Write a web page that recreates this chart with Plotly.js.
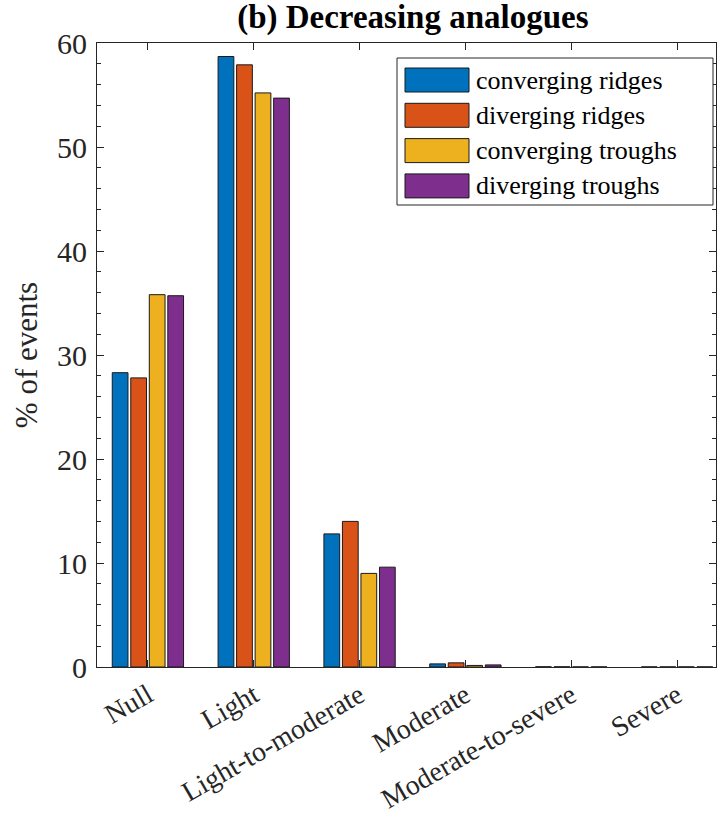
<!DOCTYPE html>
<html><head><meta charset="utf-8">
<script src="https://cdn.plot.ly/plotly-3.0.1.min.js"></script>
<style>body{margin:0;background:#fff}#chart{width:718px;height:818px}</style>
</head><body><div id="chart"></div>
<script>
const categories = ["Null","Light","Light-to-moderate","Moderate","Moderate-to-severe","Severe"];
const seriesNames = ["converging ridges","diverging ridges","converging troughs","diverging troughs"];
const convergingRidges = [28.3, 58.7, 12.8, 0.3, 0.02, 0.01];
const divergingRidges = [27.8, 57.9, 14.0, 0.4, 0.02, 0.01];
const convergingTroughs = [35.8, 55.2, 9.0, 0.15, 0.01, 0.01];
const divergingTroughs = [35.7, 54.7, 9.6, 0.2, 0.01, 0.01];
const colors = ["#0072BD","#D95319","#EDB120","#7E2F8E"];
const yTicks = [0,10,20,30,40,50,60];

const allSeries = [convergingRidges, divergingRidges, convergingTroughs, divergingTroughs];
const traces = allSeries.map((vals,i)=>({
  type:'bar', x: categories, y: vals, name: seriesNames[i], showlegend:false,
  marker:{color: colors[i], line:{color:'#1a1a1a', width:1}}
}));
const serif = "'Liberation Serif', 'Times New Roman', serif";

// manual legend (box + swatches + labels) in pixel-derived paper coords
const W = 718, H = 818, ml = 97, mr = 2, mt = 43, mb = 151;
const pw = W-ml-mr, ph = H-mt-mb;
const px = x => (x-ml)/pw, py = y => 1-(y-mt)/ph;
const shapes = [{type:'rect', xref:'paper', yref:'paper', x0:px(397), x1:px(713), y0:py(205), y1:py(58),
  line:{color:'#262626', width:1}, fillcolor:'#fff', layer:'above'}];
const annotations = [];
seriesNames.forEach((n,i)=>{
  const cy = 80 + i*35.3;
  shapes.push({type:'rect', xref:'paper', yref:'paper', x0:px(405), x1:px(469), y0:py(cy+12), y1:py(cy-12),
    line:{color:'#1a1a1a', width:1}, fillcolor:colors[i], layer:'above'});
  annotations.push({xref:'paper', yref:'paper', x:px(474), y:py(cy), xanchor:'left', yanchor:'middle',
    text:n, showarrow:false, font:{family:serif, size:26, color:'#000'}});
});

const layout = {
  width:W, height:H,
  margin:{l:ml, r:mr, t:mt, b:mb},
  paper_bgcolor:'#fff', plot_bgcolor:'#fff',
  barmode:'group', bargap:0.3, bargroupgap:0.15,
  font:{family:serif, size:26, color:'#262626'},
  title:{text:'<b>(b) Decreasing analogues</b>', x:0.575, xanchor:'center', y:0.9939, yanchor:'top', font:{family:serif, size:33, color:'#000'}},
  xaxis:{type:'category', range:[-0.481, 5.368], tickangle:-30, ticks:'inside', ticklen:7, tickcolor:'#262626',
    showline:true, linecolor:'#262626', linewidth:1, mirror:'ticks', showgrid:false,
    tickfont:{family:serif, size:28, color:'#262626'}},
  yaxis:{range:[0,60], tickvals:yTicks, ticks:'inside', ticklen:7, tickcolor:'#262626',
    minor:{dtick:2, ticks:'inside', ticklen:4, tickcolor:'#262626', showgrid:false},
    showline:true, linecolor:'#262626', linewidth:1, mirror:'ticks', showgrid:false, zeroline:false,
    tickfont:{family:serif, size:30, color:'#262626'}, ticklabelstandoff:3,
    title:{text:'% of events', font:{family:serif, size:31, color:'#262626'}, standoff:10}},
  shapes: shapes, annotations: annotations, showlegend:false
};
Plotly.newPlot('chart', traces, layout, {displayModeBar:false});
</script></body></html>
